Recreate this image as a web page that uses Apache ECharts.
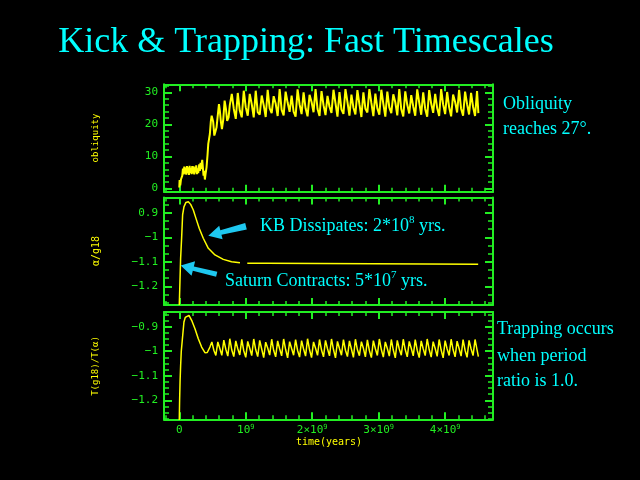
<!DOCTYPE html>
<html><head><meta charset="utf-8">
<script src="https://cdn.jsdelivr.net/npm/echarts@6/dist/echarts.min.js"></script>
<style>html,body{margin:0;padding:0;background:#000;}#c{width:640px;height:480px;}</style>
</head><body><div id="c"></div>
<script>
// ---------- data (time in units of 1e9 years) ----------
const obliquityEarly = [
  [0.00,0.3],[0.005,2.6],[0.015,1.0],[0.025,2.8],[0.035,2.2],[0.045,4.0],[0.055,6.2],[0.065,4.4],
  [0.075,6.8],[0.085,4.6],[0.095,6.5],[0.105,4.3],[0.115,7.0],[0.125,4.8],[0.135,6.6],[0.145,4.2],
  [0.155,7.1],[0.165,4.9],[0.175,6.4],[0.185,4.5],[0.195,7.0],[0.205,4.7],[0.215,6.9],[0.225,4.4],
  [0.235,6.6],[0.245,5.0],[0.255,7.2],[0.265,4.5],[0.275,6.3],[0.285,4.8],[0.30,7.5],[0.31,5.5],
  [0.32,8.0],[0.33,6.0],[0.345,8.9],[0.355,6.5],[0.365,4.0],[0.375,5.5],[0.385,2.8],[0.395,4.5],
  [0.41,6.6],[0.425,10.5],[0.436,13.9],[0.46,17.0],[0.475,21.0],[0.487,22.7],[0.50,23.0],[0.51,20.8],
  [0.527,16.5],[0.54,17.5],[0.56,19.0],[0.576,22.2],[0.597,26.3],[0.61,24.3],[0.627,20.6],[0.642,18.5],
  [0.662,21.6],[0.682,27.4],[0.702,24.8],[0.72,21.1],[0.742,22.2],[0.76,26.0]
];
const obliquityOscStart = 0.79;   // sampled every 0.03
const obliquityOsc = [
  29.5,24.8,21.7, 29.8,24.3,22.2, 30.5,25.3,22.7, 29.5,26.3,22.2, 30.5,23.8,23.0,
  29.0,26.0,22.3, 30.8,25.0,23.5, 28.8,26.5,22.6, 31.0,24.5,22.8, 30.2,26.8,23.9,
  29.0,24.0,22.4, 30.9,26.2,23.2, 30.0,25.0,22.5, 29.2,27.0,23.8, 31.0,24.8,22.6,
  30.4,26.0,22.9, 28.9,25.5,23.6, 30.8,26.6,22.4, 30.1,24.6,23.3, 31.0,27.0,22.7,
  29.3,25.2,23.1, 30.7,26.3,22.3, 30.0,24.9,23.7, 31.0,26.7,22.6, 29.6,25.0,23.0,
  30.8,26.4,22.4, 30.2,25.3,23.5, 29.4,26.9,22.8, 31.0,24.7,22.5, 30.3,26.1,23.4,
  29.1,25.6,22.7, 30.9,26.8,23.0, 30.0,24.8,22.4, 30.7,26.5,23.6, 29.5,25.1,22.6,
  31.0,26.2,23.2, 30.1,25.4,22.5, 29.3,27.0,23.7, 30.8,24.9,22.7, 30.2,26.3,23.1,
  29.8,25.5,22.6, 30.4
];
const obliquityTail = [[4.50,23.5]];

const alphaRatio = [
  [0.0,-1.276],[0.01,-1.181],[0.02,-1.086],[0.035,-1.004],[0.05,-0.909],[0.07,-0.876],[0.10,-0.858],
  [0.136,-0.855],[0.171,-0.866],[0.211,-0.889],[0.251,-0.923],[0.301,-0.964],[0.361,-1.004],
  [0.437,-1.045],[0.537,-1.072],[0.662,-1.090],[0.787,-1.100],[0.913,-1.104],[0.96,null],
  [1.023,-1.106],[1.31,-1.106],[1.32,-1.110],[4.497,-1.110]
];

const periodEarly = [
  [0.0,-1.28],[0.005,-1.20],[0.012,-1.12],[0.02,-1.06],[0.03,-1.0],[0.045,-0.955],[0.07,-0.881],
  [0.09,-0.862],[0.11,-0.854],[0.146,-0.854],[0.186,-0.874],[0.236,-0.908],[0.286,-0.949],
  [0.336,-0.983],[0.386,-1.006],[0.421,-1.005],[0.461,-0.983]
];
const periodOscStart = 0.49;      // sampled every 0.03
const periodOsc = [
  -0.962,-0.996,-1.017, -0.962,-0.989,-1.017, -0.955,-0.992,-1.020, -0.949,-0.995,-1.022,
  -0.958,-0.990,-1.015, -0.952,-0.998,-1.025, -0.960,-0.988,-1.018, -0.950,-0.994,-1.022,
  -0.956,-0.991,-1.026, -0.963,-0.987,-1.016, -0.951,-0.996,-1.023, -0.958,-0.990,-1.019,
  -0.950,-0.993,-1.027, -0.961,-0.989,-1.016, -0.953,-0.997,-1.024, -0.957,-0.991,-1.020,
  -0.949,-0.994,-1.026, -0.962,-0.988,-1.017, -0.952,-0.995,-1.023, -0.956,-0.990,-1.019,
  -0.950,-0.993,-1.027, -0.960,-0.989,-1.016, -0.953,-0.996,-1.022, -0.958,-0.991,-1.025,
  -0.951,-0.994,-1.018, -0.961,-0.988,-1.023, -0.954,-0.997,-1.026, -0.957,-0.990,-1.017,
  -0.950,-0.993,-1.024, -0.962,-0.989,-1.020, -0.952,-0.995,-1.027, -0.956,-0.991,-1.016,
  -0.951,-0.994,-1.023, -0.960,-0.988,-1.019, -0.953,-0.996,-1.026, -0.958,-0.990,-1.018,
  -0.950,-0.993,-1.024, -0.961,-0.989,-1.021, -0.952,-0.995,-1.027, -0.957,-0.991,-1.017,
  -0.951,-0.994,-1.023, -0.959,-0.989,-1.020, -0.953,-0.996,-1.025, -0.956,-0.990,-1.018,
  -0.952,-0.994
];
const periodTail = [[4.50,-1.022]];
const OSC_STEP = 0.03;

// tick values / labels
const xMajorTicks = [0,1,2,3,4];
const xMinorTicks = [-0.2,0.2,0.4,0.6,0.8,1.2,1.4,1.6,1.8,2.2,2.4,2.6,2.8,3.2,3.4,3.6,3.8,4.2,4.4,4.6];
const xTickLabels = ['0','10{s|9}','2×10{s|9}','3×10{s|9}','4×10{s|9}'];
const yTicks0 = [0,10,20,30];
const yMinor0 = [2,4,6,8,12,14,16,18,22,24,26,28,32];
const yTicks1 = [-1.2,-1.1,-1,-0.9];
const yLabels1 = ['−1.2','−1.1','−1','0.9'];
const yMinor1 = [-1.2667,-1.2333,-1.1667,-1.1333,-1.0667,-1.0333,-0.9667,-0.9333,-0.8667];
const yTicks2 = [-1.2,-1.1,-1,-0.9];
const yLabels2 = ['−1.2','−1.1','−1','−0.9'];
const yMinor2 = [-1.275,-1.25,-1.225,-1.175,-1.15,-1.125,-1.075,-1.05,-1.025,-0.975,-0.95,-0.925,-0.875,-0.85];
const yNames = ['obliquity','α/g18','T(g18)/T(α)'];

// ---------- build ----------
function withOsc(early, start, vals, tail){
  const out = early.slice();
  vals.forEach((v,i)=>out.push([+(start+i*OSC_STEP).toFixed(3), v]));
  return out.concat(tail);
}
const topData = withOsc(obliquityEarly, obliquityOscStart, obliquityOsc, obliquityTail);
const botData = withOsc(periodEarly, periodOscStart, periodOsc, periodTail);

const GREEN = '#22ee22', YELLOW = '#ffff00', CYAN = '#00ffff', ARROW = '#1ec8f0';
const X_MIN = -0.23, X_MAX = 4.72;
const yRanges = [[-1.0,32.5],[-1.276,-0.838],[-1.2775,-0.840]];
const grids = [
  {left:164, right:147, top:84.3, height:107.4},
  {left:164, right:147, top:197.5, height:107.5},
  {left:164, right:147, top:312, height:107.3}
];
const monoFont = 'DejaVu Sans Mono';

const xAxes = [], yAxes = [];
function xAx(gi, pos, ticks, len, w, line, label){
  return {type:'value', gridIndex:gi, position:pos, min:X_MIN, max:X_MAX,
    axisLine:{show:line, onZero:false, lineStyle:{color:GREEN, width:2}},
    splitLine:{show:false},
    axisTick:{show:true, inside:true, length:len, customValues:ticks, lineStyle:{color:GREEN, width:w}},
    axisLabel: label || {show:false}};
}
function yAx(gi, pos, ticks, len, w, line, label){
  return {type:'value', gridIndex:gi, position:pos, min:yRanges[gi][0], max:yRanges[gi][1],
    axisLine:{show:line, onZero:false, lineStyle:{color:GREEN, width:2}},
    splitLine:{show:false},
    axisTick:{show:true, inside:true, length:len, customValues:ticks, lineStyle:{color:GREEN, width:w}},
    axisLabel: label || {show:false}};
}
const yMaj = [yTicks0, yTicks1, yTicks2], yMin = [yMinor0, yMinor1, yMinor2];
const yLab = [null, yLabels1, yLabels2];
for (let g=0; g<3; g++){
  const xl = g===2 ? {show:true, customValues:xMajorTicks, color:GREEN, fontFamily:monoFont, fontSize:11,
      margin:4, lineHeight:13,
      formatter:(v)=>xTickLabels[xMajorTicks.indexOf(Math.round(v))] || '',
      rich:{s:{fontSize:7, fontFamily:monoFont, color:GREEN, verticalAlign:'top', lineHeight:13}}} : null;
  xAxes.push(xAx(g,'bottom',xMajorTicks,7,2,true,xl));
  xAxes.push(xAx(g,'bottom',xMinorTicks,4,1.5,false));
  xAxes.push(xAx(g,'top',xMajorTicks,7,2,true));
  xAxes.push(xAx(g,'top',xMinorTicks,4,1.5,false));
  const labs = yLab[g], maj = yMaj[g];
  const yl = {show:true, customValues:maj, color:GREEN, fontFamily:monoFont, fontSize:11, margin:6,
      formatter:(v)=>{ if(!labs) return String(Math.round(v)); let i=0,b=1e9; maj.forEach((m,k)=>{const d=Math.abs(m-v); if(d<b){b=d;i=k;}}); return labs[i]; }};
  yAxes.push(yAx(g,'left',maj,8,2,true,yl));
  yAxes.push(yAx(g,'left',yMin[g],5,1.5,false));
  yAxes.push(yAx(g,'right',maj,8,2,true));
  yAxes.push(yAx(g,'right',yMin[g],5,1.5,false));
}

function arrowPoly(tx,ty,px,py,headLen,headW,shaftTail,shaftHead){
  const dx=px-tx, dy=py-ty, L=Math.hypot(dx,dy), ux=dx/L, uy=dy/L, nx=-uy, ny=ux;
  const bx=px-ux*headLen, by=py-uy*headLen;
  return [[tx+nx*shaftTail,ty+ny*shaftTail],[bx+nx*shaftHead,by+ny*shaftHead],[bx+nx*headW,by+ny*headW],
          [px,py],[bx-nx*headW,by-ny*headW],[bx-nx*shaftHead,by-ny*shaftHead],[tx-nx*shaftTail,ty-ny*shaftTail]];
}
const serif = 'Liberation Serif';
function txt(x,y,s,size,color,extra){
  return Object.assign({type:'text', x:x, y:y, z:10,
    style:Object.assign({text:s, fill:color, font:size+'px "'+serif+'"', textAlign:'left', textVerticalAlign:'middle'}, extra||{})});
}
const graphic = [
  txt(306,43,'Kick & Trapping: Fast Timescales',36,CYAN,{textAlign:'center'}),
  txt(503,104,'Obliquity',18,CYAN),
  txt(503,129,'reaches 27°.',18,CYAN),
  txt(497,329,'Trapping occurs',18,CYAN),
  txt(497,356,'when period',18,CYAN),
  txt(497,381,'ratio is 1.0.',18,CYAN),
  txt(260,226,'KB Dissipates: 2*10{s|8} yrs.',18,CYAN,{rich:{s:{fontSize:11, fontFamily:serif, fill:CYAN, verticalAlign:'top', lineHeight:22}}, lineHeight:22}),
  txt(225,281,'Saturn Contracts: 5*10{s|7} yrs.',18,CYAN,{rich:{s:{fontSize:11, fontFamily:serif, fill:CYAN, verticalAlign:'top', lineHeight:22}}, lineHeight:22}),
  {type:'polygon', z:10, shape:{points:arrowPoly(246,226.3,208.3,235.7,13,7,3.3,2.3)}, style:{fill:ARROW}},
  {type:'polygon', z:10, shape:{points:arrowPoly(216.7,274.3,180.7,265.5,13,7.5,2.6,2.2)}, style:{fill:ARROW}},
  {type:'text', x:95.5, y:138, rotation:Math.PI/2, z:10, style:{text:yNames[0], fill:YELLOW, font:'9px "'+monoFont+'"', textAlign:'center', textVerticalAlign:'middle'}},
  {type:'text', x:96, y:251, rotation:Math.PI/2, z:10, style:{text:yNames[1], fill:YELLOW, font:'10px "'+monoFont+'"', textAlign:'center', textVerticalAlign:'middle'}},
  {type:'text', x:95.5, y:366, rotation:Math.PI/2, z:10, style:{text:yNames[2], fill:YELLOW, font:'9px "'+monoFont+'"', textAlign:'center', textVerticalAlign:'middle'}},
  {type:'text', x:329, y:442, z:10, style:{text:'time(years)', fill:YELLOW, font:'10px "'+monoFont+'"', textAlign:'center', textVerticalAlign:'middle'}}
];

const chart = echarts.init(document.getElementById('c'));
chart.setOption({
  backgroundColor:'#000',
  animation:false,
  grid:grids,
  xAxis:xAxes,
  yAxis:yAxes,
  graphic:graphic,
  series:[
    {type:'line', xAxisIndex:0, yAxisIndex:0, data:topData, showSymbol:false, lineStyle:{color:YELLOW, width:2}, clip:true},
    {type:'line', xAxisIndex:4, yAxisIndex:4, data:alphaRatio, showSymbol:false, connectNulls:false, lineStyle:{color:YELLOW, width:1.5}, clip:true},
    {type:'line', xAxisIndex:8, yAxisIndex:8, data:botData, showSymbol:false, lineStyle:{color:YELLOW, width:1.5}, clip:true}
  ]
});
</script></body></html>
